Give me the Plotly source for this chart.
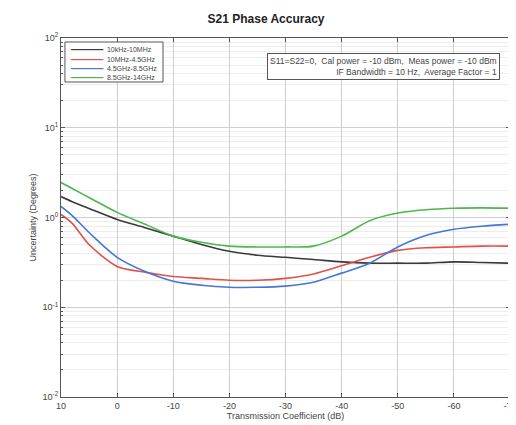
import plotly.graph_objects as go

x_db = [10, 8, 5, 0, -5, -10, -15, -20, -25, -30, -35, -40, -45, -50, -55, -60, -65, -70]

series_names = ["10kHz-10MHz", "10MHz-4.5GHz", "4.5GHz-8.5GHz", "8.5GHz-14GHz"]
black_vals = [1.71, 1.50, 1.26, 0.95, 0.77, 0.62, 0.50, 0.42, 0.38, 0.36, 0.34, 0.32, 0.31, 0.31, 0.31, 0.32, 0.315, 0.31]
red_vals = [1.08, 0.86, 0.50, 0.285, 0.245, 0.22, 0.21, 0.20, 0.20, 0.21, 0.235, 0.29, 0.36, 0.43, 0.46, 0.47, 0.48, 0.48]
blue_vals = [1.33, 1.05, 0.68, 0.36, 0.25, 0.195, 0.176, 0.167, 0.167, 0.172, 0.19, 0.24, 0.31, 0.47, 0.63, 0.74, 0.80, 0.84]
green_vals = [2.45, 2.10, 1.67, 1.14, 0.84, 0.62, 0.53, 0.48, 0.47, 0.47, 0.48, 0.62, 0.92, 1.12, 1.22, 1.27, 1.28, 1.27]
colors = ["#3a3a3a", "#e2504c", "#4677d6", "#4cb84c"]

x_ticks = [10, 0, -10, -20, -30, -40, -50, -60, -70]
x_ticktext = ["10", "0", "-10", "-20", "-30", "-40", "-50", "-60", "-70"]
y_ticks = [0.01, 0.1, 1, 10, 100]
y_ticktext = ["10<sup>-2</sup>", "10<sup>-1</sup>", "10<sup>0</sup>", "10<sup>1</sup>", "10<sup>2</sup>"]
y_minor = [m * 10.0 ** e for e in range(-2, 2) for m in range(2, 10)]

fig = go.Figure()
for name, vals, col in zip(series_names, [black_vals, red_vals, blue_vals, green_vals], colors):
    fig.add_trace(go.Scatter(x=x_db, y=vals, mode="lines", name=name, showlegend=False,
                             line=dict(color=col, width=1.6, shape="spline", smoothing=0.8)))

font_family = "Liberation Sans, Arial, sans-serif"
axis_common = dict(showline=True, linecolor="#555555", linewidth=1, mirror="allticks",
                   ticks="inside", ticklen=4, tickcolor="#555555",
                   showgrid=True, gridcolor="#cfcfcf", gridwidth=1, zeroline=False,
                   automargin=False,
                   tickfont=dict(size=9, color="#444444", family=font_family))

fig.update_layout(
    width=516, height=425,
    margin=dict(l=53, r=14, t=30, b=36),
    paper_bgcolor="white", plot_bgcolor="white",
    font=dict(family=font_family, color="#333333"),
    title=dict(text="<b>S21 Phase Accuracy</b>", x=0.5, xanchor="center", y=0.985, yanchor="top",
               font=dict(size=12, color="#222222", family=font_family)),
    xaxis=dict(range=[10, -70], tickvals=x_ticks, ticktext=x_ticktext,
               ticklabeloverflow="allow",
               title=dict(text="Transmission Coefficient (dB)", standoff=2,
                          font=dict(size=9, color="#444444", family=font_family)),
               **axis_common),
    yaxis=dict(type="log", range=[-2, 2], tickvals=y_ticks, ticktext=y_ticktext,
               title=dict(text="Uncertainty (Degrees)", standoff=4,
                          font=dict(size=9, color="#444444", family=font_family)),
               minor=dict(tickmode="array", tickvals=y_minor, ticks="inside", ticklen=2,
                          tickcolor="#555555", showgrid=True, gridcolor="#ededed", gridwidth=1),
               **axis_common),
    showlegend=False,
)

# Legend: boxed frame with one row of text per series (coloured line sample + name)
fig.add_shape(type="rect", xref="paper", yref="paper", x0=0.0088, x1=0.2272, y0=0.8774, y1=0.9889,
              line=dict(color="#555555", width=1), fillcolor="white", layer="above")
row_y = [0.9666, 0.9415, 0.915, 0.8886]
for name, col, ry in zip(series_names, colors, row_y):
    fig.add_annotation(
        xref="paper", yref="paper", x=0.0157, y=ry, xanchor="left", yanchor="middle",
        text="<span style='color:%s'>━━━━━━━━</span>  %s" % (col, name),
        align="left", showarrow=False,
        font=dict(size=7, color="#444444", family=font_family),
    )

fig.add_annotation(
    xref="paper", yref="paper", x=0.977, y=0.958, xanchor="right", yanchor="top",
    text="S11=S22=0,  Cal power = -10 dBm,  Meas power = -10 dBm<br>IF Bandwidth = 10 Hz,  Average Factor = 1",
    align="right", showarrow=False,
    font=dict(size=8.5, color="#444444", family=font_family),
    bgcolor="white", bordercolor="#555555", borderwidth=1, borderpad=2,
)

fig.write_html("out.html")
